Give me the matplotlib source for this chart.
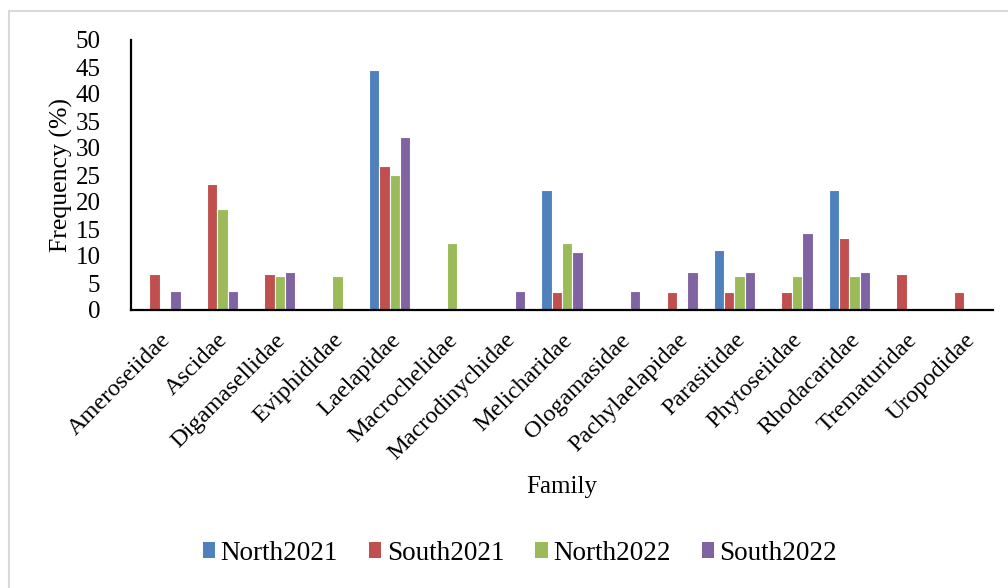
import numpy as np
import matplotlib
matplotlib.use('Agg')
import matplotlib.pyplot as plt
from matplotlib.patches import Rectangle

plt.rcParams['font.family'] = ['Liberation Serif', 'DejaVu Serif']

families = ['Ameroseiidae', 'Ascidae', 'Digamasellidae', 'Eviphididae', 'Laelapidae',
            'Macrochelidae', 'Macrodinychidae', 'Melicharidae', 'Ologamasidae',
            'Pachylaelapidae', 'Parasitidae', 'Phytoseiidae', 'Rhodacaridae',
            'Trematuridae', 'Uropodidae']

north2021 = [0, 0, 0, 0, 44.4, 0, 0, 22.2, 0, 0, 11.1, 0, 22.2, 0, 0]
south2021 = [6.7, 23.3, 6.7, 0, 26.7, 0, 0, 3.3, 0, 3.3, 3.3, 3.3, 13.3, 6.7, 3.3]
north2022 = [0, 18.75, 6.25, 6.25, 25.0, 12.5, 0, 12.5, 0, 0, 6.25, 6.25, 6.25, 0, 0]
south2022 = [3.6, 3.6, 7.1, 0, 32.1, 0, 3.6, 10.7, 3.6, 7.1, 7.1, 14.3, 7.1, 0, 0]

series = [('North2021', north2021, '#4F81BD'),
          ('South2021', south2021, '#C0504D'),
          ('North2022', north2022, '#9BBB59'),
          ('South2022', south2022, '#8064A2')]

fig = plt.figure(figsize=(10.08, 5.88), dpi=100)
W, H = 1008, 588

# light outer frame
fig.patches.append(Rectangle((9 / W, -0.1), 1.2, 1 - 11 / H + 0.1, transform=fig.transFigure,
                             facecolor='none', edgecolor='#d9d9d9', linewidth=1.5))

ax = fig.add_axes([131 / W, 1 - 310 / H, (993 - 131) / W, (310 - 40) / H])

x = np.arange(len(families))
bw = 0.181
for i, (name, vals, col) in enumerate(series):
    ax.bar(x + (i - 1.5) * bw, vals, width=bw, color=col, edgecolor='white',
           linewidth=0.8, label=name)

ax.set_xlim(-0.5, len(families) - 0.5)
ax.set_ylim(0, 50)
ax.set_yticks(np.arange(0, 51, 5))
ax.tick_params(axis='y', length=0, pad=22, labelsize=18)
ax.tick_params(axis='x', length=0, pad=14, labelsize=17.5)
ax.set_xticks(x)
ax.set_xticklabels(families, rotation=45, ha='right', rotation_mode='anchor')

for s in ['top', 'right']:
    ax.spines[s].set_visible(False)
for s in ['left', 'bottom']:
    ax.spines[s].set_linewidth(1.6)
    ax.spines[s].set_color('black')

fig.text(61 / W, 1 - 175 / H, 'Frequency (%)', rotation=90, ha='center', va='center', fontsize=18.5)
fig.text(562 / W, 1 - 487 / H, 'Family', ha='center', va='center', fontsize=18)

leg = fig.legend(loc='center', bbox_to_anchor=(520 / W, 1 - 553 / H), ncol=4, frameon=False,
                 fontsize=19.5, handlelength=0.45, handleheight=0.5, handletextpad=0.2,
                 columnspacing=1.15)
for h in leg.legend_handles:
    h.set_edgecolor('none')

fig.savefig('out.png', dpi=100)
